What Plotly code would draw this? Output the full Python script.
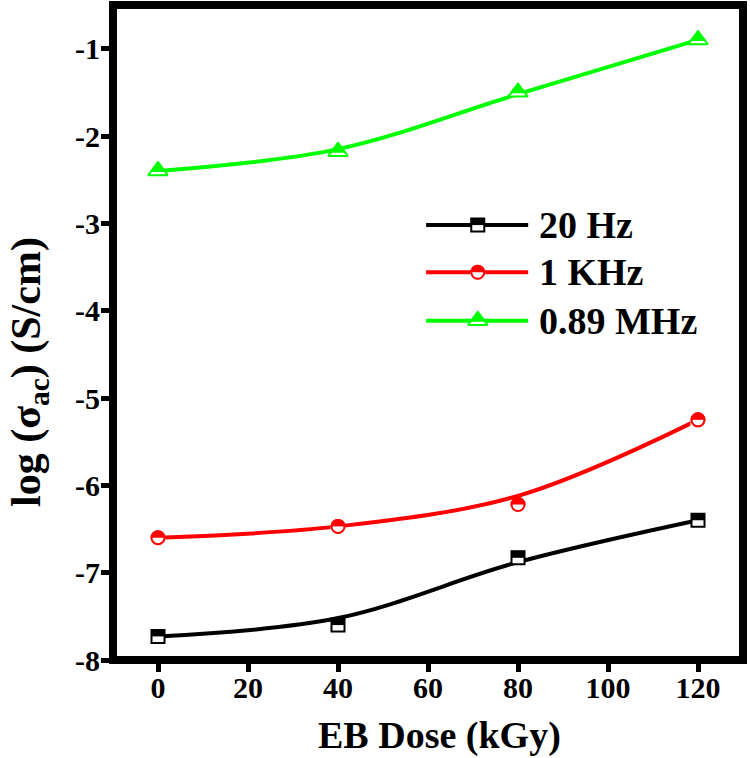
import plotly.graph_objects as go

# ---------------- data ----------------
dose_kgy = [0, 40, 80, 120]

# measured points
hz20_points = [-7.73, -7.60, -6.83, -6.40]
khz1_points = [-6.60, -6.47, -6.22, -5.25]
mhz089_points = [-2.40, -2.18, -1.50, -0.90]

# smooth fitted curves (values read at the same doses)
hz20_curve = [-7.73, -7.52, -6.88, -6.40]
khz1_curve = [-6.60, -6.47, -6.12, -5.25]
mhz089_curve = [-2.40, -2.15, -1.52, -0.90]

series_names = ["20 Hz", "1 KHz", "0.89 MHz"]
series_colors = ["#000000", "#ff0000", "#00ff00"]

x_tick_vals = [0, 20, 40, 60, 80, 100, 120]
x_tick_text = ["0", "20", "40", "60", "80", "100", "120"]
y_tick_vals = [-1, -2, -3, -4, -5, -6, -7, -8]
y_tick_text = ["-1", "-2", "-3", "-4", "-5", "-6", "-7", "-8"]

FONT = "Liberation Serif"
LW = 4


def mk(x, y, xa, ya, **marker):
    return go.Scatter(x=x, y=y, mode="markers", xaxis=xa, yaxis=ya, showlegend=False,
                      hoverinfo="skip", marker=marker)


def half_square(x, y, color, xa="x", ya="y"):
    s = 13
    return [
        mk(x, y, xa, ya, symbol="square", size=s, color="white", line=dict(color=color, width=2)),
        mk(x, y, xa, ya, symbol="line-ew", size=(s + 1) / 1.4, color=color, angle=180,
           standoff=(s + 1) / 4, line=dict(color=color, width=(s + 1) / 2)),
    ]


def half_circle(x, y, color, xa="x", ya="y"):
    s = 13
    return [
        mk(x, y, xa, ya, symbol="circle", size=s, color=color, line=dict(color=color, width=2)),
        mk(x, y, xa, ya, symbol="line-ew", size=(s + 2) / 1.4, color="white", angle=0,
           standoff=(s + 2) / 4, line=dict(color="white", width=(s + 2) / 2)),
        mk(x, y, xa, ya, symbol="circle-open", size=s, color=color, line=dict(color=color, width=2)),
    ]


def half_triangle(x, y, color, xa="x", ya="y"):
    s = 17
    r = s / 2
    return [
        mk(x, y, xa, ya, symbol="triangle-up", size=s, color="white", line=dict(color=color, width=2)),
        # smaller filled triangle sharing the tip: top part of the marker
        mk(x, y, xa, ya, symbol="triangle-down", size=s * 2 / 3, color=color, angle=180,
           standoff=r / 3, line=dict(color=color, width=2)),
    ]


marker_makers = [half_square, half_circle, half_triangle]
points = [hz20_points, khz1_points, mhz089_points]
curves = [hz20_curve, khz1_curve, mhz089_curve]

fig = go.Figure()

# fitted curves
for name, col, cv in zip(series_names, series_colors, curves):
    fig.add_trace(go.Scatter(x=dose_kgy, y=cv, mode="lines", name=name, showlegend=False,
                             line=dict(color=col, width=LW, shape="spline", smoothing=1.0)))

# markers
for maker, col, pts in zip(marker_makers, series_colors, points):
    for tr in maker(dose_kgy, pts, col):
        fig.add_trace(tr)

# ---------------- custom legend (overlay axes in [0,1]) ----------------
leg_x_line = [0.497, 0.659]
leg_x_mark = 0.579
leg_x_text = 0.673
leg_rows = [0.664, 0.592, 0.518]
for maker, col, name, ry in zip(marker_makers, series_colors, series_names, leg_rows):
    fig.add_trace(go.Scatter(x=leg_x_line, y=[ry, ry], mode="lines", xaxis="x2", yaxis="y2",
                             showlegend=False, hoverinfo="skip", line=dict(color=col, width=LW)))
    for tr in maker([leg_x_mark], [ry], col, "x2", "y2"):
        fig.add_trace(tr)
    fig.add_annotation(x=leg_x_text, y=ry, xref="x2", yref="y2", text=name, showarrow=False,
                       xanchor="left", yanchor="middle",
                       font=dict(family=FONT, size=38, color="black", weight="bold"))

# axis titles
fig.add_annotation(x=0.519, y=-0.116, xref="paper", yref="paper", text="EB Dose (kGy)",
                   showarrow=False, xanchor="center", yanchor="middle",
                   font=dict(family=FONT, size=38, color="black", weight="bold"))
fig.add_annotation(x=-0.133, y=0.44, xref="paper", yref="paper",
                   text="log (σ<sub>ac</sub>) (S/cm)", textangle=-90,
                   showarrow=False, xanchor="center", yanchor="middle",
                   font=dict(family=FONT, size=42, color="black", weight="bold"))

# frame
fig.add_shape(type="rect", xref="paper", yref="paper", x0=0, x1=1, y0=0, y1=1,
              line=dict(color="black", width=8), layer="above")

tickfont = dict(family=FONT, size=30, color="black", weight="bold")
fig.update_layout(
    width=750, height=758,
    margin=dict(l=113, r=7, t=5, b=98),
    paper_bgcolor="white", plot_bgcolor="white",
    showlegend=False,
    xaxis=dict(range=[-10, 130], tickvals=x_tick_vals, ticktext=x_tick_text,
               ticks="outside", ticklen=11, tickwidth=5, tickcolor="black",
               ticklabelstandoff=-10,
               showgrid=False, zeroline=False, showline=False, tickfont=tickfont),
    yaxis=dict(range=[-8, -0.5], tickvals=y_tick_vals, ticktext=y_tick_text,
               ticks="outside", ticklen=11, tickwidth=5, tickcolor="black",
               ticklabelstandoff=-5,
               showgrid=False, zeroline=False, showline=False, tickfont=tickfont),
    xaxis2=dict(range=[0, 1], overlaying="x", anchor="y2", visible=False, fixedrange=True),
    yaxis2=dict(range=[0, 1], overlaying="y", anchor="x2", visible=False, fixedrange=True),
)

# remove the browser's default 8px page margin so the figure sits at the window origin
fig.write_html("out.html", config={"displayModeBar": False},
               post_script="document.body.style.margin='0';")
